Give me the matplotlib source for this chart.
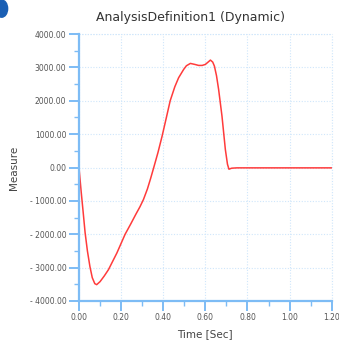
import matplotlib
matplotlib.use("Agg")
import matplotlib.pyplot as plt
from matplotlib.ticker import MultipleLocator, FuncFormatter
from matplotlib.patches import Ellipse

# Data
time_s = [0.0, 0.01, 0.02, 0.029, 0.04, 0.052, 0.063, 0.075, 0.084, 0.10, 0.12, 0.14,
          0.18, 0.219, 0.245, 0.27, 0.29, 0.306, 0.325, 0.34, 0.355, 0.375, 0.395,
          0.415, 0.433, 0.455, 0.473, 0.497, 0.51, 0.529, 0.55, 0.568, 0.585, 0.60,
          0.615, 0.624, 0.635, 0.643, 0.653, 0.663, 0.679, 0.695, 0.705, 0.712,
          0.725, 0.75, 1.2]
measure = [0, -700, -1350, -1950, -2500, -2970, -3300, -3480, -3510, -3420, -3250, -3060,
           -2560, -2000, -1700, -1400, -1170, -960, -640, -330, 0, 450, 950,
           1500, 2000, 2420, 2690, 2940, 3050, 3120, 3090, 3060, 3060, 3090,
           3170, 3220, 3160, 3040, 2750, 2340, 1540, 540, 100, -50,
           -20, -10, -10]

title = "AnalysisDefinition1 (Dynamic)"
xlabel = "Time [Sec]"
ylabel = "Measure"

spine_c = "#7dbcf5"
grid_c = "#cfe6fb"
text_c = "#555555"

fig = plt.figure(figsize=(3.39, 3.44), dpi=100)
ax = fig.add_axes([0.233, 0.125, 0.7455, 0.776])

ax.plot(time_s, measure, color="#ff3b3b", lw=1.1)

ax.set_xlim(0, 1.2)
ax.set_ylim(-4000, 4000)
ax.xaxis.set_major_locator(MultipleLocator(0.2))
ax.xaxis.set_minor_locator(MultipleLocator(0.1))
ax.yaxis.set_major_locator(MultipleLocator(1000))
ax.yaxis.set_minor_locator(MultipleLocator(500))

def yfmt(v, pos):
    if v < 0:
        return "- %.2f" % abs(v)
    return "%.2f" % v

ax.yaxis.set_major_formatter(FuncFormatter(yfmt))
ax.xaxis.set_major_formatter(FuncFormatter(lambda v, p: "%.2f" % v))

for s in ["top", "right"]:
    ax.spines[s].set_visible(False)
for s in ["left", "bottom"]:
    ax.spines[s].set_color(spine_c)
    ax.spines[s].set_linewidth(1.6)

ax.tick_params(axis="both", which="major", direction="out", length=7, width=1.4,
               color=spine_c, labelsize=5.5, labelcolor=text_c, pad=2)
ax.tick_params(axis="both", which="minor", direction="out", length=3.5, width=1.0,
               color=spine_c)

ax.grid(True, which="major", color=grid_c, linestyle=(0, (1, 1.5)), linewidth=0.8)
ax.set_axisbelow(True)
ax.axhline(4000, color=grid_c, linestyle=(0, (1, 1.5)), linewidth=0.8, clip_on=False)
ax.axvline(1.2, color=grid_c, linestyle=(0, (1, 1.5)), linewidth=0.8, clip_on=False)

fig.text(190 / 339, 1 - 17 / 344, title, fontsize=9, color="#333333",
         ha="center", va="center")
ax.set_xlabel(xlabel, fontsize=7.5, color="#444444", labelpad=5)
ax.set_ylabel(ylabel, fontsize=7.5, color="#444444", labelpad=8)

# decorative blob at top-left corner
fig.patches.append(Ellipse((0.005, 0.975), 0.035, 0.05, transform=fig.transFigure,
                           color="#1a5fb4", zorder=10))

fig.savefig("out.png", dpi=100)
